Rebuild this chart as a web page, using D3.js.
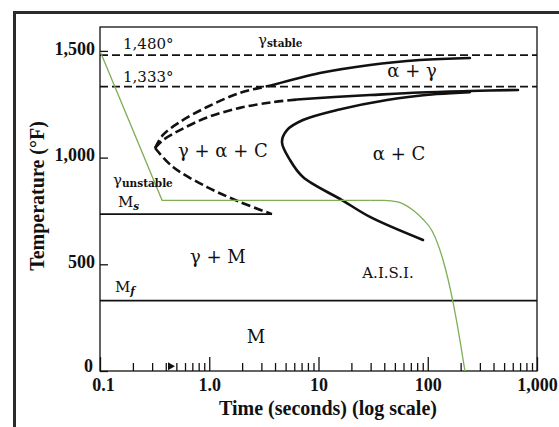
<!DOCTYPE html>
<html>
<head>
<meta charset="utf-8">
<script src="https://cdn.jsdelivr.net/npm/d3@7"></script>
<style>
    html, body { margin: 0; padding: 0; background: #fff; }
    svg { display: block; }
</style>
</head>
<body>
<div id="chart"></div>
<script>
// axis ticks
const timeTicks = [0.1, 1, 10, 100, 1000];
const timeTickLabels = ['0.1', '1.0', '10', '100', '1,000'];
const minorMultipliers = [2, 3, 4, 5, 6, 7, 8, 9];
const tempTicks = [0, 500, 1000, 1500];
const tempTickLabels = ['0', '500', '1,000', '1,500'];

// critical temperatures (°F)
const criticalTemps = [1480, 1333];
const msTemp = 735;
const msEndTime = 3.75;
const mfTemp = 330;

// curves, [time (s), temperature (°F)]
const upperStartDashed = [[0.319, 1045], [0.377, 1106], [0.54, 1167], [0.954, 1237], [1.91, 1303], [3.83, 1340]];
const upperStartSolid = [[3.83, 1340], [10.3, 1396], [29.6, 1434], [84.9, 1457], [243, 1467]];
const middleStartDashed = [[0.319, 1045], [0.377, 1082], [0.54, 1129], [0.954, 1188], [1.91, 1233], [3.83, 1260], [6.36, 1272]];
const middleStartSolid = [[6.36, 1272], [14, 1284], [29.6, 1293], [84.9, 1305], [243, 1312], [670, 1317]];
const lowerStartDashed = [[0.319, 1045], [0.466, 956], [0.954, 862], [1.91, 792], [3.75, 735]];
const finishCurve = [[243, 1307], [121.6, 1298], [42.4, 1270], [14.8, 1223], [7.21, 1176], [5.15, 1129], [4.63, 1073],
    [5.48, 989], [7.21, 909], [16.4, 801], [29.6, 722], [90.5, 614]];

// cooling path (green)
const coolingQuench = [[0.1, 1500], [0.37, 800], [30, 800]];
const coolingSlow = [[30, 800], [40, 800], [53, 792], [63, 776], [73, 754], [90, 712], [110, 655], [138, 520], [170, 325], [197, 145], [219, 0]];

// region labels, anchored at [time, temp]
const regionLabels = [
    { text: 'γ + α + C', at: [0.518, 1003], anchor: 'start', size: 18 },
    { text: 'α + C', at: [54.6, 989], anchor: 'middle', size: 18 },
    { text: 'α + γ', at: [71.8, 1378], anchor: 'middle', size: 18 },
    { text: 'γ + M', at: [1.2, 506], anchor: 'middle', size: 18 },
    { text: 'M', at: [2.68, 131], anchor: 'middle', size: 18 },
    { text: 'A.I.S.I.', at: [43.3, 436], anchor: 'middle', size: 15 },
    { text: '1,480°', at: [0.1625, 1508], anchor: 'start', size: 15 },
    { text: '1,333°', at: [0.1625, 1354], anchor: 'start', size: 15 }
];
const subLabels = [
    { main: 'γ', sub: 'stable', at: [2.79, 1528], italicSub: false },
    { main: 'γ', sub: 'unstable', at: [0.1315, 872], italicSub: false },
    { main: 'M', sub: 's', at: [0.146, 768], italicSub: true },
    { main: 'M', sub: 'f', at: [0.137, 370], italicSub: true }
];
const arrowMark = [0.44, 22];

class TTTDiagram {
    constructor(_config) {
        this.config = {
            parentElement: _config.parentElement,
            containerWidth: _config.containerWidth,
            containerHeight: _config.containerHeight,
            margin: _config.margin || { top: 27, right: 22, bottom: 56, left: 100 }
        };
        this.initVis();
    }

    initVis() {
        let vis = this;
        vis.width = vis.config.containerWidth - vis.config.margin.left - vis.config.margin.right;
        vis.height = vis.config.containerHeight - vis.config.margin.top - vis.config.margin.bottom;

        vis.svg = d3.select(vis.config.parentElement)
            .append('svg')
            .attr('width', vis.config.containerWidth)
            .attr('height', vis.config.containerHeight);

        vis.chart = vis.svg.append('g')
            .attr('transform', `translate(${vis.config.margin.left},${vis.config.margin.top})`);

        vis.xScale = d3.scaleLog()
            .domain([0.1, 1000])
            .range([0, vis.width]);

        vis.yScale = d3.scaleLinear()
            .domain([0, 1612])
            .range([vis.height, 0]);

        vis.renderVis();
    }

    renderVis() {
        let vis = this;
        const serif = "'DejaVu Serif', serif";
        const times = "'Liberation Serif', 'Times New Roman', serif";

        // outer frame of the figure
        vis.svg.append('rect')
            .attr('x', 14.5).attr('y', 12.5)
            .attr('width', 700).attr('height', 600)
            .attr('fill', 'none')
            .attr('stroke', '#2b2b2b')
            .attr('stroke-width', 3);

        // plot box
        vis.chart.append('rect')
            .attr('width', vis.width)
            .attr('height', vis.height)
            .attr('fill', 'none')
            .attr('stroke', '#111')
            .attr('stroke-width', 1.3);

        // dashed critical temperature lines
        vis.chart.selectAll('.crit')
            .data(criticalTemps)
            .enter().append('line')
            .attr('class', 'crit')
            .attr('x1', 0).attr('x2', vis.width)
            .attr('y1', d => vis.yScale(d)).attr('y2', d => vis.yScale(d))
            .attr('stroke', '#111')
            .attr('stroke-width', 1.7)
            .attr('stroke-dasharray', '8,4');

        // Ms and Mf
        vis.chart.append('line')
            .attr('x1', 0).attr('x2', vis.xScale(msEndTime))
            .attr('y1', vis.yScale(msTemp)).attr('y2', vis.yScale(msTemp))
            .attr('stroke', '#111').attr('stroke-width', 1.8);
        vis.chart.append('line')
            .attr('x1', 0).attr('x2', vis.width)
            .attr('y1', vis.yScale(mfTemp)).attr('y2', vis.yScale(mfTemp))
            .attr('stroke', '#111').attr('stroke-width', 1.8);

        // transformation curves
        const smooth = d3.line()
            .x(d => vis.xScale(d[0]))
            .y(d => vis.yScale(d[1]))
            .curve(d3.curveCatmullRom.alpha(0.5));
        [upperStartDashed, middleStartDashed, lowerStartDashed].forEach(c => {
            vis.chart.append('path')
                .attr('d', smooth(c))
                .attr('fill', 'none')
                .attr('stroke', '#111')
                .attr('stroke-width', 2.6)
                .attr('stroke-dasharray', '9,4');
        });
        [upperStartSolid, middleStartSolid, finishCurve].forEach(c => {
            vis.chart.append('path')
                .attr('d', smooth(c))
                .attr('fill', 'none')
                .attr('stroke', '#111')
                .attr('stroke-width', 2.6)
                .attr('stroke-linecap', 'round');
        });

        // cooling path
        const straight = d3.line()
            .x(d => vis.xScale(d[0]))
            .y(d => vis.yScale(d[1]));
        const bend = d3.line()
            .x(d => vis.xScale(d[0]))
            .y(d => vis.yScale(d[1]))
            .curve(d3.curveMonotoneX);
        vis.chart.append('path')
            .attr('d', straight(coolingQuench))
            .attr('fill', 'none')
            .attr('stroke', '#7fae55')
            .attr('stroke-width', 1.3);
        vis.chart.append('path')
            .attr('d', bend(coolingSlow))
            .attr('fill', 'none')
            .attr('stroke', '#7fae55')
            .attr('stroke-width', 1.3);

        // small arrow on the time axis
        vis.chart.append('path')
            .attr('d', d3.symbol(d3.symbolTriangle, 28)())
            .attr('transform', `translate(${vis.xScale(arrowMark[0])},${vis.yScale(arrowMark[1])}) rotate(90)`)
            .attr('fill', '#111');

        // axes
        const minorTicks = timeTicks.slice(0, -1).flatMap(d => minorMultipliers.map(m => d * m));

        vis.chart.append('g')
            .attr('transform', `translate(0,${vis.height})`)
            .call(d3.axisBottom(vis.xScale).tickValues(minorTicks).tickSize(-8).tickFormat(''))
            .call(g => g.select('.domain').remove())
            .selectAll('line').attr('stroke', '#111').attr('stroke-width', 1.3);

        const xAxisG = vis.chart.append('g')
            .attr('transform', `translate(0,${vis.height})`)
            .call(d3.axisBottom(vis.xScale)
                .tickValues(timeTicks)
                .tickSize(-14)
                .tickPadding(7)
                .tickFormat((d, i) => timeTickLabels[i]));
        xAxisG.select('.domain').remove();
        xAxisG.selectAll('line').attr('stroke', '#111').attr('stroke-width', 1.3);
        xAxisG.selectAll('text')
            .attr('dx', (d, i) => i === 0 ? 3 : 0)
            .style('font-family', times)
            .style('font-weight', 'bold')
            .style('font-size', '18px')
            .style('fill', '#111');

        const yAxisG = vis.chart.append('g')
            .call(d3.axisLeft(vis.yScale)
                .tickValues(tempTicks)
                .tickSize(-8)
                .tickPadding(5)
                .tickFormat((d, i) => tempTickLabels[i]));
        yAxisG.select('.domain').remove();
        yAxisG.selectAll('line').attr('stroke', '#111').attr('stroke-width', 1.3);
        yAxisG.selectAll('text')
            .attr('dy', (d, i) => i === 0 ? '0.05em' : '0.18em')
            .attr('dx', (d, i) => i === 0 ? -2 : 0)
            .style('font-family', times)
            .style('font-weight', 'bold')
            .style('font-size', '18px')
            .style('fill', '#111');

        // axis titles
        vis.svg.append('text')
            .attr('x', 328)
            .attr('y', 415)
            .attr('text-anchor', 'middle')
            .style('font-family', times)
            .style('font-weight', 'bold')
            .style('font-size', '20px')
            .style('fill', '#111')
            .text('Time (seconds) (log scale)');

        vis.svg.append('text')
            .attr('transform', 'translate(44,196) rotate(-90)')
            .attr('text-anchor', 'middle')
            .style('font-family', times)
            .style('font-weight', 'bold')
            .style('font-size', '20px')
            .style('fill', '#111')
            .text('Temperature (°F)');

        // region labels
        vis.chart.selectAll('.region')
            .data(regionLabels)
            .enter().append('text')
            .attr('class', 'region')
            .attr('x', d => vis.xScale(d.at[0]))
            .attr('y', d => vis.yScale(d.at[1]))
            .attr('text-anchor', d => d.anchor)
            .style('font-family', serif)
            .style('font-size', d => d.size + 'px')
            .style('fill', '#111')
            .text(d => d.text);

        const subs = vis.chart.selectAll('.sublabel')
            .data(subLabels)
            .enter().append('text')
            .attr('class', 'sublabel')
            .attr('x', d => vis.xScale(d.at[0]))
            .attr('y', d => vis.yScale(d.at[1]))
            .style('font-family', serif)
            .style('fill', '#111');
        subs.append('tspan')
            .style('font-size', '15px')
            .text(d => d.main);
        subs.append('tspan')
            .attr('dy', d => d.italicSub ? 3 : 2)
            .style('font-size', '10.5px')
            .style('font-weight', 'bold')
            .style('font-style', d => d.italicSub ? 'italic' : 'normal')
            .text(d => d.sub);
    }
}

const diagram = new TTTDiagram({
    parentElement: '#chart',
    containerWidth: 559,
    containerHeight: 427
});
</script>
</body>
</html>
